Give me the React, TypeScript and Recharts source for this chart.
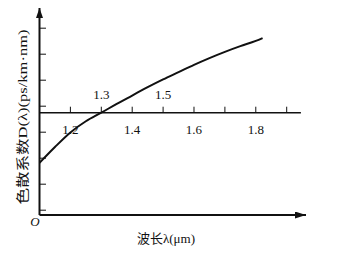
import React from 'react';
import { LineChart, Line, XAxis, YAxis, ReferenceLine, ReferenceDot } from 'recharts';

// wavelength in µm, dispersion (one y-tick step = 1 unit)
const wavelength = [1.1, 1.15, 1.2, 1.25, 1.3, 1.35, 1.4, 1.45, 1.5, 1.55, 1.6, 1.65, 1.7, 1.75, 1.8, 1.822];
const dispersion = [-1.93, -1.32, -0.76, -0.33, 0, 0.34, 0.66, 0.98, 1.28, 1.56, 1.84, 2.1, 2.34, 2.56, 2.76, 2.87];

const zeroLineTicks = [1.2, 1.3, 1.4, 1.5, 1.6, 1.7, 1.8, 1.9];
const labelsBelow = ['1.2', '1.4', '1.6', '1.8'];
const labelsAbove = ['1.3', '1.5'];
const yTicks = [-3.75, -2.75, -1.75, -0.75, 0.25, 1.25, 2.25, 3.25];

const X_MIN = 1.1;
const X_MAX = 1.9625;
const ZERO_LINE_END = 1.946;
const Y_MIN = -3.935;
const Y_MAX = 4.027;
const TICK_MARK = 0.23; // ~6px upward on the zero line
const Y_TICK_MARK = 0.021; // ~6px rightward from the y axis

const data = wavelength.map((w, i) => ({ w, d: dispersion[i] }));

const SERIF = '"Liberation Serif", "Times New Roman", "Noto Sans CJK SC", serif';
const INK = '#111';

const App: React.FC = () => {
  return (
    <div style={{ position: 'absolute', left: 0, top: 0, width: 348, height: 262, background: '#fff' }}>
      <LineChart
        width={348}
        height={262}
        data={data}
        margin={{ top: 8, right: 42, bottom: 47, left: 39.5 }}
      >
        <defs>
          <marker
            id="arrowY"
            viewBox="0 0 10 7"
            refX={10}
            refY={3.5}
            markerUnits="userSpaceOnUse"
            markerWidth={10}
            markerHeight={7}
            orient="auto"
          >
            <path d="M0,0 L10,3.5 L0,7 z" fill={INK} />
          </marker>
          <marker
            id="arrowX"
            viewBox="0 0 11 7"
            refX={11}
            refY={3.5}
            markerUnits="userSpaceOnUse"
            markerWidth={11}
            markerHeight={7}
            orient="auto"
          >
            <path d="M0,0 L11,3.5 L0,7 z" fill={INK} />
          </marker>
        </defs>

        <XAxis dataKey="w" type="number" domain={[X_MIN, X_MAX]} hide allowDataOverflow />
        <YAxis type="number" domain={[Y_MIN, Y_MAX]} hide allowDataOverflow />

        {/* axes with arrow heads */}
        <ReferenceLine
          segment={[{ x: X_MIN, y: Y_MIN }, { x: X_MIN, y: Y_MAX }]}
          stroke={INK}
          strokeWidth={2}
          markerEnd="url(#arrowY)"
        />
        <ReferenceLine
          segment={[{ x: X_MIN, y: Y_MIN }, { x: X_MAX, y: Y_MIN }]}
          stroke={INK}
          strokeWidth={2}
          markerEnd="url(#arrowX)"
        />
        {yTicks.map((v) => (
          <ReferenceLine
            key={`y${v}`}
            segment={[{ x: X_MIN, y: v }, { x: X_MIN + Y_TICK_MARK, y: v }]}
            stroke={INK}
            strokeWidth={1}
          />
        ))}

        {/* zero dispersion line with its wavelength ticks */}
        <ReferenceLine
          segment={[{ x: X_MIN, y: 0 }, { x: ZERO_LINE_END, y: 0 }]}
          stroke={INK}
          strokeWidth={1.5}
        />
        {zeroLineTicks.map((t) => (
          <ReferenceLine
            key={`t${t}`}
            segment={[{ x: t, y: 0 }, { x: t, y: TICK_MARK }]}
            stroke={INK}
            strokeWidth={1}
          />
        ))}
        {labelsBelow.map((l) => (
          <ReferenceDot
            key={`b${l}`}
            x={Number(l)}
            y={0}
            r={0}
            stroke="none"
            fill="none"
            label={{ value: l, position: 'bottom', offset: 12, fill: INK, fontSize: 13, fontFamily: SERIF }}
          />
        ))}
        {labelsAbove.map((l) => (
          <ReferenceDot
            key={`a${l}`}
            x={Number(l)}
            y={0}
            r={0}
            stroke="none"
            fill="none"
            label={{ value: l, position: 'top', offset: 14, fill: INK, fontSize: 13, fontFamily: SERIF }}
          />
        ))}

        <Line
          type="monotone"
          dataKey="d"
          stroke={INK}
          strokeWidth={2}
          dot={false}
          isAnimationActive={false}
        />

        <text x={35} y={226} textAnchor="middle" fontSize={13} fontStyle="italic" fontFamily={SERIF} fill={INK}>
          O
        </text>
        <text x={166} y={243} textAnchor="middle" fontSize={13} fontFamily={SERIF} fill={INK}>
          波长λ(μm)
        </text>
        <text
          x={22}
          y={117}
          transform="rotate(-90 22 117)"
          textAnchor="middle"
          dominantBaseline="central"
          fontSize={13}
          fontFamily={SERIF}
          fill={INK}
          textLength={175}
          lengthAdjust="spacingAndGlyphs"
        >
          色散系数D(λ)(ps/km·nm)
        </text>
      </LineChart>
    </div>
  );
};

export default App;
